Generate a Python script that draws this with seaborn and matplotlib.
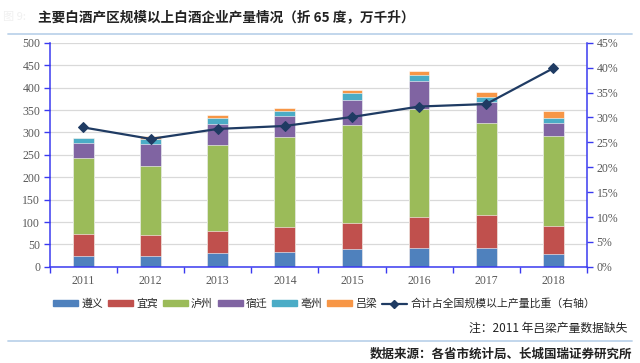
import numpy as np
import pandas as pd
import matplotlib
matplotlib.use("Agg")
import matplotlib.pyplot as plt
import seaborn as sns
from matplotlib.patches import Patch
from matplotlib.lines import Line2D

years = ["2011", "2012", "2013", "2014", "2015", "2016", "2017", "2018"]
zunyi = [24, 25, 30, 34, 39, 43, 42, 28]
yibin = [49, 45, 49, 55, 58, 68, 73, 64]
luzhou = [171, 155, 192, 200, 220, 241, 206, 200]
suqian = [33, 50, 48, 48, 56, 62, 46, 28]
bozhou = [10, 11, 13, 11, 15, 15, 13, 13]
lvliang = [0, 7, 7, 7, 6, 8, 11, 14]
ratio = [28.0, 25.7, 27.7, 28.3, 30.1, 32.2, 32.7, 39.9]

names = ["遵义", "宜宾", "泸州", "宿迁", "亳州", "吕梁"]
colors = ["#4F81BD", "#C0504D", "#9BBB59", "#8064A2", "#4BACC6", "#F79646"]
line_name = "合计占全国规模以上产量比重（右轴）"

sns.set_theme(style="white")
plt.rcParams['font.family'] = ['Noto Sans CJK SC', 'DejaVu Sans']

df = pd.DataFrame({"year": years})
cum = np.zeros(len(years))
for n, v in zip(names, [zunyi, yibin, luzhou, suqian, bozhou, lvliang]):
    cum = cum + np.array(v)
    df[n] = cum

fig = plt.figure(figsize=(6.4, 3.63), dpi=100)
ax = fig.add_axes([0.078, 0.265, 0.839, 0.617])
ax.set_axisbelow(True)
ax.yaxis.grid(True, color="#D9D9D9", linewidth=0.9)

# stacked bars: draw cumulative totals from top down
for n, c in zip(names[::-1], colors[::-1]):
    sns.barplot(data=df, x="year", y=n, color=c, saturation=1, width=0.31,
                order=years, ax=ax, edgecolor="white", linewidth=0.4)

ax.set_xlim(-0.5, 7.5)
ax.set_ylim(0, 500)
ax.set_yticks(range(0, 501, 50))
ax.set_xlabel("")
ax.set_ylabel("")

ax2 = ax.twinx()
sns.lineplot(x=np.arange(len(years)), y=ratio, ax=ax2, color="#1F3B63",
             marker="D", markersize=5, linewidth=1.6, markeredgecolor="#1F3B63")
ax2.set_ylim(0, 45)
ax2.set_yticks(range(0, 46, 5))
ax2.set_yticklabels([f"{v}%" for v in range(0, 46, 5)])
ax2.set_xlim(-0.5, 7.5)

spine_c = "#3A3AF0"
for a in (ax, ax2):
    for s in a.spines.values():
        s.set_visible(False)
    a.tick_params(colors="#595959", labelsize=8.5)
    for lab in a.get_xticklabels() + a.get_yticklabels():
        lab.set_fontfamily("Liberation Serif")
ax.spines["left"].set_visible(True)
ax.spines["bottom"].set_visible(True)
ax2.spines["right"].set_visible(True)
for s in (ax.spines["left"], ax.spines["bottom"], ax2.spines["right"]):
    s.set_color(spine_c)
    s.set_linewidth(1.1)

ax.tick_params(axis="y", left=True, length=4, color=spine_c, width=1, pad=3)
ax2.tick_params(axis="y", right=True, length=4, color=spine_c, width=1, pad=3)
ax.tick_params(axis="x", which="major", length=0, pad=6)
ax.set_xticks(np.arange(-0.5, 8, 1), minor=True)
ax.tick_params(axis="x", which="minor", bottom=True, length=4, color=spine_c, width=1)

handles = [Patch(color=c) for c in colors]
handles.append(Line2D([], [], color="#1F3B63", marker="D", markersize=4, linewidth=1.6))
fig.legend(handles, names + [line_name], loc="center left",
           bbox_to_anchor=(0.068, 0.163), ncol=7, frameon=False,
           handlelength=2.3, handleheight=0.45, handletextpad=0.3,
           columnspacing=0.45, prop={"size": 7.8})

fig.text(0.004, 0.952, "图 9:", fontsize=8, color="#F0F0F0", va="center")
fig.text(0.06, 0.952, "主要白酒产区规模以上白酒企业产量情况（折 65 度，万千升）",
         fontsize=9.8, fontweight="bold", color="#222222", va="center")
fig.add_artist(Line2D([0.012, 0.988], [0.907, 0.907], color="#BDD3EA", linewidth=1.3))
fig.text(0.98, 0.097, "注：2011 年吕梁产量数据缺失", fontsize=8.5,
         color="#222222", ha="right", va="center")
fig.add_artist(Line2D([0.012, 0.988], [0.06, 0.06], color="#BDD3EA", linewidth=1.3))
fig.text(0.988, 0.025, "数据来源：各省市统计局、长城国瑞证券研究所", fontsize=9,
         fontweight="bold", fontstyle="italic", color="#222222", ha="right", va="center")

fig.savefig("out.png", dpi=100)
